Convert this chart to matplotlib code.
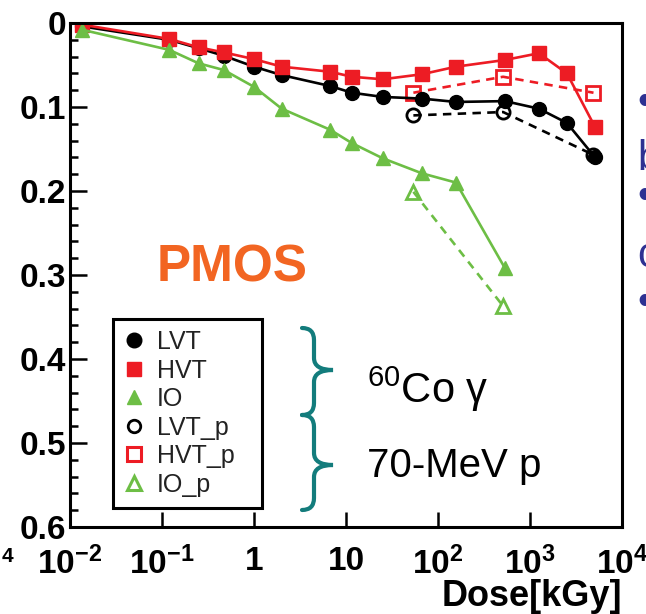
import matplotlib
matplotlib.use("Agg")
import matplotlib.pyplot as plt
from matplotlib.lines import Line2D
from matplotlib.path import Path
from matplotlib.patches import PathPatch
from matplotlib.ticker import LogLocator, MultipleLocator, FixedLocator, FixedFormatter, NullFormatter
from matplotlib.transforms import Affine2D

plt.rcParams["font.family"] = ["Liberation Sans", "DejaVu Sans"]
plt.rcParams["mathtext.fontset"] = "custom"
plt.rcParams["mathtext.rm"] = "Liberation Sans:bold"
plt.rcParams["mathtext.bf"] = "Liberation Sans:bold"
plt.rcParams["mathtext.it"] = "Liberation Sans:bold"

# |dVth| [V] vs total dose [kGy]; gamma (60Co) and 70-MeV proton runs
dose_gamma = [0.0135, 0.12, 0.25, 0.47, 1.0, 2.0, 6.7, 11.6, 25, 67, 157, 535, 1250, 2520, 5100]
lvt = [0.004, 0.020, 0.030, 0.039, 0.052, 0.062, 0.075, 0.083, 0.088, 0.090, 0.094, 0.093, 0.102, 0.119, 0.160]
hvt = [0.002, 0.019, 0.029, 0.035, 0.043, 0.052, 0.058, 0.064, 0.067, 0.061, 0.052, 0.044, 0.036, 0.060, 0.124]
dose_io = [0.0135, 0.12, 0.25, 0.47, 1.0, 2.0, 6.7, 11.6, 25, 67, 157, 535]
io = [0.008, 0.032, 0.048, 0.056, 0.076, 0.102, 0.127, 0.143, 0.161, 0.179, 0.190, 0.292]

dose_p = [54, 510, 4900]
lvt_p = [0.110, 0.106, 0.157]
hvt_p = [0.083, 0.064, 0.083]
dose_io_p = [54, 510]
io_p = [0.201, 0.337]

RED = "#ED1C24"
GREEN = "#6DBE45"
TEAL = "#137C7C"
NAVY = "#2E3192"

W, H = 646, 614
fig = plt.figure(figsize=(W / 100, H / 100), dpi=100)
ax = fig.add_axes([70 / W, 1 - 527 / H, 552 / W, 504 / H])

lw = 1.9
dash = (3.2, 2.4)
ax.plot(dose_io_p, io_p, color=GREEN, lw=lw, dashes=dash, marker="^", ms=10,
        mfc="none", mec=GREEN, mew=2)
ax.plot(dose_p, lvt_p, color="black", lw=lw, dashes=dash, marker="o", ms=9.5,
        mfc="none", mec="black", mew=2)
ax.plot(dose_p, hvt_p, color=RED, lw=lw, dashes=dash, marker="s", ms=9.5,
        mfc="none", mec=RED, mew=2)
ax.plot(dose_gamma, lvt, color="black", lw=lw, marker="o", ms=10)
ax.plot(dose_gamma, hvt, color=RED, lw=lw, marker="s", ms=9.5)
ax.plot(dose_io, io, color=GREEN, lw=lw, marker="^", ms=10.5)

ax.set_xscale("log")
ax.set_xlim(1e-2, 1e4)
ax.set_ylim(0.6, 0)

for side in ["left", "bottom", "top", "right"]:
    ax.spines[side].set_linewidth(2.2)

ax.xaxis.set_major_locator(FixedLocator([1e-2, 1e-1, 1, 10, 1e2, 1e3, 1e4]))
ax.xaxis.set_major_formatter(FixedFormatter(
    [r"$10^{-2}$", r"$10^{-1}$", "1", "10", r"$10^{2}$", r"$10^{3}$", r"$10^{4}$"]))
ax.xaxis.set_minor_locator(LogLocator(base=10, subs=range(2, 10)))
ax.xaxis.set_minor_formatter(NullFormatter())
ax.yaxis.set_major_locator(MultipleLocator(0.1))
ax.yaxis.set_minor_locator(MultipleLocator(0.02))
ax.yaxis.set_major_formatter(plt.FuncFormatter(lambda v, p: "0" if abs(v) < 1e-9 else f"{v:.1f}"))

ax.tick_params(axis="both", which="both", direction="in", top=False, right=False, width=1.8)
ax.tick_params(axis="x", which="major", length=11, pad=14, labelsize=24)
ax.tick_params(axis="x", which="minor", length=6)
ax.tick_params(axis="y", which="major", length=12, pad=3, labelsize=24)
ax.tick_params(axis="y", which="minor", length=6)
for lab in ax.get_xticklabels() + ax.get_yticklabels():
    lab.set_fontweight("bold")

fig.text(622 / W, 1 - 606 / H, "Dose[kGy]", ha="right", va="baseline",
         fontsize=26, fontweight="bold")

ax.text(232, 268, "PMOS", color="#F26522", fontsize=37, fontweight="bold",
        ha="center", va="center", transform=Affine2D().scale(1 / W, -1 / H).translate(0, 1) + fig.transFigure)

handles = [
    Line2D([], [], ls="none", marker="o", ms=10.5, color="black"),
    Line2D([], [], ls="none", marker="s", ms=10.5, color=RED),
    Line2D([], [], ls="none", marker="^", ms=10.5, color=GREEN),
    Line2D([], [], ls="none", marker="o", ms=9, mfc="none", mec="black", mew=2),
    Line2D([], [], ls="none", marker="s", ms=9.5, mfc="none", mec=RED, mew=2.2),
    Line2D([], [], ls="none", marker="^", ms=10, mfc="none", mec=GREEN, mew=2.2),
]
labels = ["LVT", "HVT", "IO", "LVT_p", "HVT_p", "IO_p"]
leg = ax.legend(handles, labels, loc="upper left", bbox_to_anchor=(0.078, 0.044, 0.27, 0.369),
                mode="expand", borderaxespad=0, fontsize=18, handlelength=0.8, handletextpad=0.5,
                labelspacing=0.18, borderpad=0.45, fancybox=False, framealpha=1)
leg.get_frame().set_edgecolor("black")
leg.get_frame().set_linewidth(2.2)
for t in leg.get_texts():
    t.set_color("#222222")

# double curly brace tying the gamma / proton labels
px = Affine2D().scale(1 / W, -1 / H).translate(0, 1) + fig.transFigure


def brace(xe, xs, xt, yt, ym, yb, r=12):
    verts = [(xe, yt), (xs, yt), (xs, yt + r), (xs, ym - r), (xs, ym), (xt, ym),
             (xs, ym), (xs, ym + r), (xs, yb - r), (xs, yb), (xe, yb)]
    codes = [Path.MOVETO, Path.CURVE3, Path.CURVE3, Path.LINETO, Path.CURVE3, Path.CURVE3,
             Path.CURVE3, Path.CURVE3, Path.LINETO, Path.CURVE3, Path.CURVE3]
    return Path(verts, codes)


for yt, ym, yb in [(328, 370, 415), (415, 465, 510)]:
    fig.add_artist(PathPatch(brace(302, 314, 333, yt, ym, yb), transform=px,
                             fill=False, edgecolor=TEAL, lw=3, capstyle="round"))

fig.text(367 / W, 1 - 403 / H, r"$\mathregular{^{60}}$Co γ", fontsize=30, va="baseline")
fig.text(367 / W, 1 - 477 / H, "70-MeV p", fontsize=29, va="baseline")

# slide text cut off at the right edge
for ch, yb in [("•", 114), ("b", 170), ("•", 208), ("c", 267), ("•", 314)]:
    fig.text(637 / W, 1 - yb / H, ch, fontsize=30, color=NAVY, va="baseline")
fig.text(2 / W, 1 - 562 / H, "4", fontsize=15, fontweight="bold", va="baseline")

fig.savefig("out.png", dpi=100)
